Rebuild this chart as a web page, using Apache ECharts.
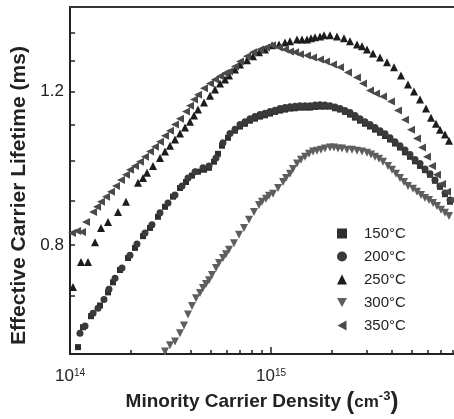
<!DOCTYPE html>
<html>
<head>
<meta charset="utf-8">
<script src="https://cdn.jsdelivr.net/npm/echarts@6/dist/echarts.min.js"></script>
<style>
  html, body { margin: 0; padding: 0; background: #fff; }
  #chart { width: 454px; height: 419px; }
</style>
</head>
<body>
<div id="chart"></div>
<script>
// [density in 1e14 cm^-3, lifetime in ms]
const s150 = [[1.096,0.611],[1.161,0.644],[1.272,0.663],[1.410,0.682],[1.546,0.706],[1.637,0.725],[1.773,0.749],[1.943,0.773],[2.106,0.794],[2.308,0.819],[2.500,0.837],[2.741,0.862],[2.969,0.885],[3.254,0.909],[3.526,0.930],[3.777,0.945],[4.045,0.961],[4.333,0.971],[4.642,0.976],[4.916,0.981],[5.205,0.997],[5.449,1.018],[5.705,1.040],[6.111,1.062],[6.621,1.082],[7.011,1.094],[7.424,1.102],[7.863,1.111],[8.326,1.117],[8.817,1.123],[9.337,1.127],[9.887,1.132],[10.47,1.137],[11.09,1.141],[11.74,1.144],[12.43,1.147],[13.17,1.148],[13.94,1.150],[14.77,1.150],[15.63,1.150],[16.56,1.152],[17.53,1.153],[18.57,1.153],[19.66,1.153],[20.82,1.148],[22.05,1.144],[23.34,1.137],[24.72,1.129],[26.18,1.120],[27.72,1.111],[29.36,1.102],[31.09,1.094],[32.92,1.085],[34.86,1.076],[36.91,1.067],[39.09,1.057],[41.40,1.046],[43.83,1.035],[46.42,1.022],[49.15,1.010],[52.05,0.998],[55.12,0.986],[58.37,0.975],[61.81,0.963],[65.45,0.948],[69.31,0.933],[73.41,0.915],[77.73,0.897]];
const s200 = [[1.121,0.634],[1.188,0.646],[1.302,0.668],[1.378,0.677],[1.476,0.693],[1.563,0.712],[1.675,0.733],[1.814,0.753],[1.988,0.779],[2.154,0.802],[2.361,0.826],[2.558,0.844],[2.804,0.871],[3.073,0.894],[3.330,0.913],[3.608,0.935],[3.864,0.955],[4.187,0.971],[4.589,0.981],[4.916,0.986],[5.326,1.007],[5.770,1.048],[6.252,1.074],[6.621,1.086],[7.011,1.100],[7.424,1.108],[7.863,1.117],[8.326,1.123],[8.817,1.129],[9.337,1.133],[9.887,1.138],[10.47,1.142],[11.09,1.147],[11.74,1.150],[12.43,1.153],[13.17,1.154],[13.94,1.156],[14.77,1.156],[15.63,1.156],[16.56,1.158],[17.53,1.159],[18.57,1.158],[19.66,1.156],[20.82,1.152],[22.05,1.147],[23.34,1.141],[24.72,1.135],[26.18,1.126],[27.72,1.117],[29.36,1.108],[31.09,1.100],[32.92,1.091],[34.86,1.082],[36.91,1.073],[39.09,1.062],[41.40,1.051],[43.83,1.040],[46.42,1.028],[49.15,1.016],[52.05,1.003],[55.12,0.992],[58.37,0.978],[61.81,0.966],[65.45,0.950],[69.31,0.935],[73.41,0.918],[77.73,0.901]];
const s250 = [[1.035,0.716],[1.134,0.765],[1.229,0.765],[1.332,0.806],[1.426,0.837],[1.546,0.850],[1.733,0.873],[1.899,0.897],[2.179,0.943],[2.308,0.955],[2.416,0.968],[2.588,0.986],[2.804,1.007],[2.969,1.024],[3.144,1.040],[3.330,1.057],[3.526,1.074],[3.734,1.091],[3.954,1.108],[4.139,1.126],[4.333,1.144],[4.642,1.166],[4.972,1.187],[5.266,1.206],[5.576,1.226],[5.904,1.239],[6.181,1.252],[6.621,1.272],[7.011,1.289],[7.597,1.303],[8.137,1.317],[8.716,1.331],[9.337,1.341],[10.12,1.356],[10.96,1.359],[11.74,1.366],[12.43,1.370],[13.47,1.377],[14.26,1.377],[15.11,1.377],[15.81,1.381],[16.56,1.385],[17.53,1.388],[18.35,1.392],[19.66,1.392],[21.30,1.388],[23.08,1.381],[24.72,1.370],[26.79,1.359],[28.37,1.352],[30.04,1.341],[32.17,1.327],[34.86,1.313],[37.77,1.296],[40.92,1.279],[44.34,1.252],[48.04,1.222],[51.46,1.200],[55.12,1.175],[59.04,1.147],[62.52,1.120],[66.21,1.102],[69.31,1.085],[73.41,1.071],[76.84,1.054]];
const s300 = [[2.969,0.604],[3.144,0.614],[3.330,0.620],[3.526,0.634],[3.691,0.647],[3.864,0.666],[4.045,0.681],[4.235,0.695],[4.434,0.705],[4.589,0.714],[4.749,0.722],[4.916,0.729],[5.087,0.739],[5.326,0.753],[5.512,0.763],[5.770,0.773],[5.972,0.781],[6.181,0.790],[6.546,0.804],[6.931,0.822],[7.340,0.837],[7.773,0.855],[8.231,0.873],[8.716,0.889],[9.020,0.897],[9.444,0.904],[9.774,0.911],[10.23,0.916],[10.84,0.930],[11.48,0.945],[11.88,0.955],[12.43,0.966],[12.87,0.978],[13.47,0.992],[14.10,1.002],[14.77,1.010],[15.46,1.018],[16.18,1.024],[16.94,1.026],[17.73,1.029],[18.57,1.032],[19.66,1.035],[20.58,1.035],[21.55,1.032],[22.56,1.032],[23.89,1.029],[25.29,1.029],[26.79,1.026],[28.37,1.024],[30.04,1.021],[31.45,1.016],[32.92,1.010],[34.47,1.005],[36.08,0.997],[38.21,0.986],[40.00,0.976],[41.88,0.966],[43.83,0.955],[45.89,0.945],[48.04,0.935],[50.87,0.928],[53.26,0.921],[55.76,0.913],[58.37,0.906],[61.10,0.901],[63.97,0.894],[66.97,0.887],[70.11,0.878],[73.41,0.871],[76.84,0.864]];
const s350 = [[1.023,0.826],[1.084,0.830],[1.147,0.828],[1.201,0.850],[1.302,0.873],[1.363,0.885],[1.426,0.897],[1.511,0.909],[1.600,0.921],[1.694,0.935],[1.794,0.950],[1.899,0.963],[1.988,0.976],[2.106,0.986],[2.230,0.997],[2.361,1.010],[2.500,1.024],[2.648,1.037],[2.804,1.051],[2.969,1.068],[3.144,1.082],[3.330,1.100],[3.526,1.117],[3.777,1.138],[3.954,1.156],[4.139,1.175],[4.333,1.190],[4.642,1.210],[4.972,1.226],[5.266,1.239],[5.576,1.249],[5.904,1.259],[6.181,1.265],[6.621,1.282],[7.011,1.299],[7.597,1.317],[8.137,1.331],[8.817,1.341],[9.444,1.348],[10.12,1.356],[10.96,1.348],[11.74,1.341],[12.43,1.334],[13.17,1.331],[13.94,1.324],[15.11,1.320],[16.18,1.313],[17.53,1.306],[18.78,1.299],[20.35,1.289],[22.05,1.279],[24.16,1.262],[26.79,1.245],[28.69,1.226],[31.09,1.203],[33.30,1.194],[36.08,1.184],[39.54,1.169],[42.85,1.141],[46.42,1.114],[49.72,1.085],[53.26,1.060],[56.39,1.035],[59.72,1.010],[63.25,0.986],[66.97,0.963],[70.93,0.940],[75.10,0.921],[79.53,0.901]];

const seriesNames = ['150°C', '200°C', '250°C', '300°C', '350°C'];
const xLabelTicks = [1e14, 1e15];
const xMinorTicks = [2e14, 3e14, 4e14, 5e14, 6e14, 7e14, 8e14, 9e14, 2e15, 3e15, 4e15, 5e15, 6e15, 7e15, 8e15];
const yLabelTicks = [0.8, 1.2];
const yMinorTicks = [0.7, 0.8, 0.9, 1.0, 1.1, 1.2, 1.3, 1.4];

const FONT = 'Liberation Sans, Arial, sans-serif';
const X_MIN = 1e14, X_MAX = 8.137e15;
const toPoints = arr => arr.map(p => [p[0] * 1e14, p[1]]);

const chart = echarts.init(document.getElementById('chart'));

const marks = [
  {data: s150, symbol: 'rect', size: 6, color: '#2e2e2e'},
  {data: s200, symbol: 'circle', size: 7, color: '#3a3a3a'},
  {data: s250, symbol: 'triangle', size: 8, color: '#1c1c1c'},
  {data: s300, symbol: 'path://M0,0L10,0L5,9Z', size: 8, color: '#5e5e5e'},
  {data: s350, symbol: 'path://M0,5L9,0L9,10Z', size: 8, color: '#4a4a4a'}
];

chart.setOption({
  animation: false,
  textStyle: {fontFamily: FONT},
  grid: {left: 70, top: 7, right: 0, bottom: 65},
  legend: {
    orient: 'vertical',
    left: 337,
    top: 226,
    padding: 0,
    itemWidth: 10,
    itemHeight: 10,
    itemGap: 8,
    data: seriesNames,
    textStyle: {fontFamily: FONT, fontSize: 15, color: '#222', padding: [0, 0, 0, 12]}
  },
  xAxis: [
    {
      type: 'log', logBase: 10, min: X_MIN, max: X_MAX,
      name: 'Minority Carrier Density {p|(}{c|cm}{s|-3}{p|)}',
      nameLocation: 'middle', nameGap: 31,
      nameTextStyle: {
        fontFamily: FONT, fontWeight: 'bold', fontSize: 19, color: '#222',
        rich: {
          p: {fontFamily: FONT, fontSize: 24, color: '#222'},
          c: {fontFamily: FONT, fontSize: 17, fontWeight: 'bold', color: '#222'},
          s: {fontFamily: FONT, fontSize: 13, fontWeight: 'bold', color: '#222', verticalAlign: 'top'}
        }
      },
      axisLine: {lineStyle: {color: '#222', width: 2}},
      axisTick: {inside: true, length: 7, customValues: xLabelTicks, lineStyle: {color: '#222', width: 1.5}},
      axisLabel: {
        customValues: xLabelTicks, margin: 14, color: '#222',
        formatter: v => '{b|10}{s|' + Math.round(Math.log10(v)) + '}',
        rich: {
          b: {fontFamily: FONT, fontSize: 17, color: '#222'},
          s: {fontFamily: FONT, fontSize: 10, color: '#222', verticalAlign: 'top'}
        }
      },
      splitLine: {show: false}
    },
    {
      type: 'log', logBase: 10, min: X_MIN, max: X_MAX, position: 'bottom',
      axisLine: {show: false},
      axisTick: {inside: true, length: 4, customValues: xMinorTicks, lineStyle: {color: '#222', width: 1.5}},
      axisLabel: {show: false},
      splitLine: {show: false}
    },
    {
      type: 'log', logBase: 10, min: X_MIN, max: X_MAX, position: 'top',
      axisLine: {lineStyle: {color: '#333', width: 2}},
      axisTick: {show: false},
      axisLabel: {show: false},
      splitLine: {show: false}
    }
  ],
  yAxis: {
    type: 'log', logBase: 10, min: 0.6, max: 1.5,
    name: 'Effective Carrier Lifetime (ms)',
    nameLocation: 'middle', nameGap: 28, nameRotate: 90,
    nameTextStyle: {fontFamily: FONT, fontWeight: 'bold', fontSize: 21, color: '#222', padding: [0, 30, 0, 0]},
    axisLine: {lineStyle: {color: '#222', width: 2}},
    axisTick: {inside: true, length: 5, customValues: yMinorTicks, lineStyle: {color: '#222', width: 1.5}},
    axisLabel: {
      customValues: yLabelTicks, margin: 6, fontSize: 17, color: '#222', fontFamily: FONT,
      formatter: v => v.toFixed(1)
    },
    splitLine: {show: false}
  },
  series: marks.map((m, i) => ({
    name: seriesNames[i],
    type: 'scatter',
    xAxisIndex: 0,
    symbol: m.symbol,
    symbolSize: m.size,
    itemStyle: {color: m.color, opacity: 1},
    data: toPoints(m.data)
  }))
});
</script>
</body>
</html>
